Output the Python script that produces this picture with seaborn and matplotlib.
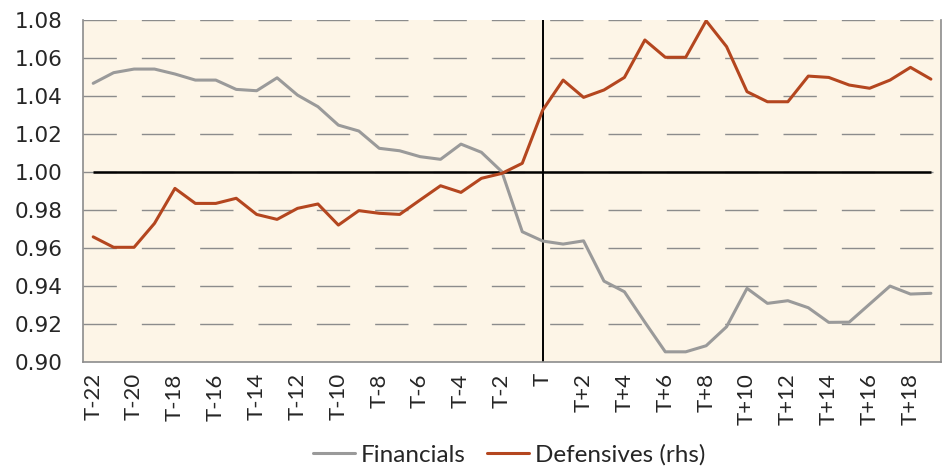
import numpy as np
import pandas as pd
import matplotlib
matplotlib.use("Agg")
import matplotlib.pyplot as plt
import seaborn as sns

# --- DATA ---
periods = [f"T-{i}" for i in range(22, 0, -1)] + ["T"] + [f"T+{i}" for i in range(1, 20)]

financials = [1.0467, 1.0523, 1.0542, 1.0542, 1.0516, 1.0484, 1.0484, 1.0435, 1.0428, 1.0496,
              1.0405, 1.0344, 1.0247, 1.0216, 1.0125, 1.0112, 1.0081, 1.0067, 1.0147, 1.0104,
              1.0002, 0.9686, 0.9637, 0.9621, 0.9638, 0.9426, 0.9370, 0.9210, 0.9054, 0.9054,
              0.9086, 0.9186, 0.9388, 0.9309, 0.9323, 0.9286, 0.9209, 0.9210, 0.9305, 0.9400,
              0.9358, 0.9362]

defensives = [0.9659, 0.9604, 0.9604, 0.9730, 0.9914, 0.9835, 0.9835, 0.9862, 0.9777, 0.9751,
              0.9809, 0.9832, 0.9721, 0.9797, 0.9783, 0.9777, 0.9853, 0.9928, 0.9893, 0.9967,
              0.9993, 1.0046, 1.0326, 1.0484, 1.0393, 1.0432, 1.0498, 1.0695, 1.0604, 1.0604,
              1.0796, 1.0660, 1.0423, 1.0370, 1.0370, 1.0505, 1.0498, 1.0458, 1.0441, 1.0484,
              1.0551, 1.0489]

y_ticks = [0.90, 0.92, 0.94, 0.96, 0.98, 1.00, 1.02, 1.04, 1.06, 1.08]
baseline = 1.00
event = "T"

# --- PLOT ---
sns.set_style("white")
plt.rcParams['font.family'] = ['DejaVu Sans']

GREY = "#9a9a9a"
RUST = "#b4461f"
BG = "#fdf5e7"

df = pd.DataFrame({"Period": periods, "Financials": financials, "Defensives (rhs)": defensives})
long_df = df.melt(id_vars="Period", var_name="Series", value_name="Value")

fig = plt.figure(figsize=(9.43, 4.66), dpi=100)
ax = fig.add_axes([0.088, 0.223, 0.910, 0.734])
ax.set_facecolor(BG)

sns.lineplot(data=long_df, x="Period", y="Value", hue="Series", sort=False,
             palette={"Financials": GREY, "Defensives (rhs)": RUST},
             linewidth=2.2, ax=ax, legend=False, zorder=3)

# reference lines
ax.hlines(baseline, 0, len(periods) - 1, color="black", linewidth=1.8, zorder=2)
ax.axvline(periods.index(event), color="black", linewidth=1.4, zorder=2)

ax.set_xlim(-0.5, len(periods) - 0.5)
ax.set_ylim(y_ticks[0], y_ticks[-1])
ax.set_yticks(y_ticks)
ax.set_yticklabels([f"{v:.2f}" for v in y_ticks], fontsize=15.5)
for v in y_ticks[1:]:
    ax.axhline(v, color="#8c8c8c", linewidth=1.0, linestyle=(0, (24, 18)), zorder=1)

major = list(range(0, len(periods), 2))
ax.set_xticks(major)
ax.set_xticklabels([periods[i] for i in major], rotation=90, fontsize=16, family="Lato")
ax.set_xticks(np.arange(-0.5, len(periods), 1), minor=True)
ax.tick_params(axis="x", which="major", length=0, pad=8)
ax.tick_params(axis="x", which="minor", length=6, color="#8c8c8c", width=1)
ax.tick_params(axis="y", length=7, color="#8c8c8c", width=1, pad=8)
ax.set_xlabel("")
ax.set_ylabel("")

for side in ["left", "bottom", "right"]:
    ax.spines[side].set_color("#8c8c8c")
    ax.spines[side].set_linewidth(1.2)
ax.spines["top"].set_visible(False)

handles = [plt.Line2D([], [], color=GREY, linewidth=2.2),
           plt.Line2D([], [], color=RUST, linewidth=2.2)]
fig.legend(handles, ["Financials", "Defensives (rhs)"], loc="center",
           bbox_to_anchor=(0.54, 0.024), ncol=2, frameon=False,
           prop={"family": "Lato", "size": 17.5}, handlelength=1.7,
           handletextpad=0.25, columnspacing=0.9)

plt.savefig("out.png", dpi=100)
